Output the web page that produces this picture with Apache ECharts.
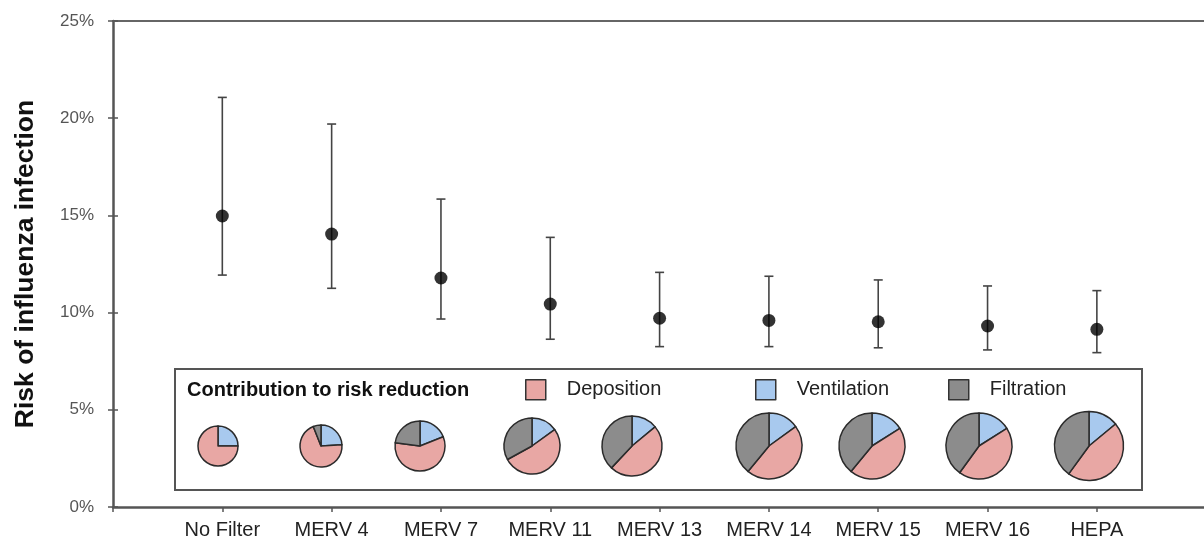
<!DOCTYPE html>
<html>
<head>
<meta charset="utf-8">
<script src="https://cdn.jsdelivr.net/npm/echarts@6/dist/echarts.min.js"></script>
<style>
html,body{margin:0;padding:0;background:#fff;}
#chart{width:1204px;height:543px;}
</style>
</head>
<body>
<div id="chart"></div>
<script>
// ---- data ----
const categories = ['No Filter','MERV 4','MERV 7','MERV 11','MERV 13','MERV 14','MERV 15','MERV 16','HEPA'];
const riskMean  = [14.97, 14.04, 11.78, 10.44, 9.71, 9.60, 9.53, 9.31, 9.14];
const riskLow   = [11.93, 11.25, 9.67, 8.63, 8.25, 8.25, 8.19, 8.08, 7.94];
const riskHigh  = [21.07, 19.70, 15.84, 13.87, 12.07, 11.87, 11.68, 11.37, 11.13];
const yTicks = [0, 5, 10, 15, 20, 25];
// contribution to risk reduction (% of each pie)
const deposition  = [75, 70, 58, 52, 48, 46, 45, 44, 46];
const ventilation = [25, 24, 19, 15, 14, 15, 16, 16, 14];
const filtration  = [0, 6, 23, 33, 38, 39, 39, 40, 40];

// ---- layout (not data) ----
const pieCenterX = [218, 321, 420, 532, 632, 769, 872, 979, 1089];
const pieCenterY = 446;
const pieRadius  = [20, 21, 25, 28, 30, 33, 33, 33, 34.5];
const X_MAX = 9.98;

const FONT = "'Liberation Sans', Arial, sans-serif";
const COL = {dep:'#E8A7A4', ven:'#A8C9EE', fil:'#8C8C8C'};

const chart = echarts.init(document.getElementById('chart'), null, {renderer:'canvas'});

const pieSeries = categories.map((c, i) => ({
  type: 'pie',
  name: c,
  center: [pieCenterX[i], pieCenterY],
  radius: pieRadius[i],
  startAngle: 90,
  clockwise: true,
  silent: true,
  z: 5,
  label: {show:false},
  labelLine: {show:false},
  emphasis: {disabled:true},
  itemStyle: {borderColor:'#2b2b2b', borderWidth:1.5},
  data: [
    {name:'Ventilation', value: ventilation[i], itemStyle:{color:COL.ven}},
    {name:'Deposition', value: deposition[i], itemStyle:{color:COL.dep}},
    {name:'Filtration', value: filtration[i], itemStyle:{color:COL.fil}}
  ].filter(d => d.value > 0)
}));

function legendFor(name, left) {
  return {
    data: [name],
    left: left, top: 379, padding: 0,
    itemWidth: 20, itemHeight: 20,
    icon: 'rect',
    selectedMode: false,
    itemStyle: {borderColor:'#333', borderWidth:1.5},
    textStyle: {fontFamily: FONT, fontSize: 20, color:'#222', padding:[0,0,0,16]}
  };
}

const option = {
  backgroundColor: '#fff',
  animation: false,
  title: {
    text: 'Contribution to risk reduction',
    left: 187, top: 380, padding: 0,
    textStyle: {fontFamily: FONT, fontSize: 20, fontWeight: 'bold', color:'#111'}
  },
  legend: [
    legendFor('Deposition', 525),
    legendFor('Ventilation', 755),
    legendFor('Filtration', 948)
  ],
  grid: {left: 113, right: 0, top: 21, bottom: 36, show: false},
  graphic: [{
    type: 'rect',
    z: 1,
    shape: {x: 175, y: 369, width: 967, height: 121},
    style: {fill: '#fff', stroke: '#555', lineWidth: 2}
  }],
  xAxis: [{
    type: 'value', min: 0, max: X_MAX, interval: 1,
    splitLine: {show:false},
    axisLine: {show:true, onZero:false, lineStyle:{color:'#555', width:2.5}},
    axisTick: {show:true, length:5, lineStyle:{color:'#555', width:1.5}},
    axisLabel: {
      fontFamily: FONT, fontSize: 20, color: '#222', margin: 13,
      showMaxLabel: false,
      formatter: v => categories[v - 1] || ''
    }
  }, {
    type: 'value', min: 0, max: X_MAX, position: 'top',
    splitLine: {show:false},
    axisLine: {show:true, onZero:false, lineStyle:{color:'#666', width:2}},
    axisTick: {show:false},
    axisLabel: {show:false}
  }],
  yAxis: [{
    type: 'value', min: yTicks[0], max: yTicks[yTicks.length-1], interval: 5,
    name: 'Risk of influenza infection',
    nameLocation: 'middle', nameRotate: 90, nameGap: 74,
    nameTextStyle: {fontFamily: FONT, fontSize: 26.5, fontWeight: 'bold', color:'#111'},
    splitLine: {show:false},
    axisLine: {show:true, onZero:false, lineStyle:{color:'#555', width:2.5}},
    axisTick: {show:true, length:5, lineStyle:{color:'#555', width:1.5}},
    axisLabel: {fontFamily: FONT, fontSize: 17, color:'#555', margin: 19, formatter: '{value}%'}
  }, {
    type: 'value', min: yTicks[0], max: yTicks[yTicks.length-1], interval: 5,
    position: 'left',
    splitLine: {show:false},
    axisLine: {show:false},
    axisTick: {show:true, inside:true, length:5, lineStyle:{color:'#555', width:1.5}},
    axisLabel: {show:false}
  }],
  series: [{
    type: 'custom',
    name: 'range',
    z: 3,
    silent: true,
    data: categories.map((c, i) => [i + 1, riskLow[i], riskHigh[i]]),
    renderItem: function (params, api) {
      const x = api.value(0);
      const lo = api.coord([x, api.value(1)]);
      const hi = api.coord([x, api.value(2)]);
      const w = 4.5;
      const st = {stroke:'#444', lineWidth:1.6};
      return {type:'group', children:[
        {type:'line', shape:{x1:lo[0], y1:lo[1], x2:hi[0], y2:hi[1]}, style:st},
        {type:'line', shape:{x1:lo[0]-w, y1:lo[1], x2:lo[0]+w, y2:lo[1]}, style:st},
        {type:'line', shape:{x1:hi[0]-w, y1:hi[1], x2:hi[0]+w, y2:hi[1]}, style:st}
      ]};
    }
  }, {
    type: 'scatter',
    name: 'mean',
    z: 4,
    symbol: 'circle',
    symbolSize: 13,
    itemStyle: {color:'#000'},
    silent: true,
    data: categories.map((c, i) => [i + 1, riskMean[i]])
  }].concat(pieSeries)
};

chart.setOption(option);
</script>
</body>
</html>
